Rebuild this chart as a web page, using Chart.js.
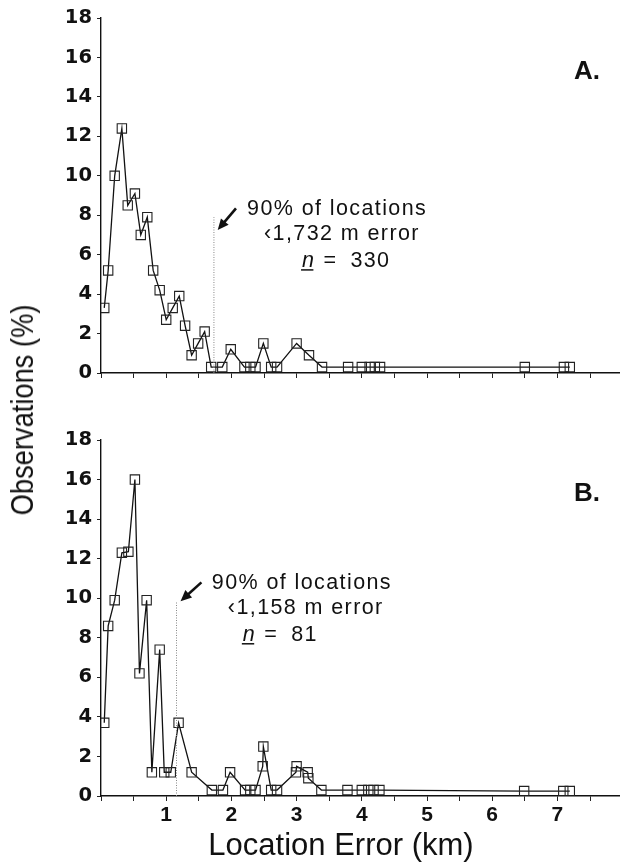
<!DOCTYPE html>
<html>
<head>
<meta charset="utf-8">
<script src="https://cdn.jsdelivr.net/npm/chart.js@4.4.1/dist/chart.umd.min.js"></script>
<style>
  body { margin: 0; background: #fff; width: 620px; height: 862px; position: relative; overflow: hidden;
         font-family: "Liberation Sans", Arial, Helvetica, sans-serif; color: #111; }
  .panel { position: absolute; left: 0; width: 620px; }
  #panelA { top: 0; height: 400px; }
  #panelB { top: 420px; height: 442px; }
  #ytitle { position: absolute; left: 23px; top: 410px; transform: translate(-50%, -50%) rotate(-90deg) scaleX(0.88);
            white-space: nowrap; font-size: 31px; }
  #xtitle { position: absolute; left: 341px; top: 845px; transform: translate(-50%, -50%);
            white-space: nowrap; font-size: 31px; }
</style>
</head>
<body>
<div class="panel" id="panelA"><canvas id="chartA"></canvas></div>
<div class="panel" id="panelB"><canvas id="chartB"></canvas></div>
<div id="ytitle">Observations (%)</div>
<div id="xtitle">Location Error (km)</div>
<script>
// panel A: all locations (n = 330)
const kmA  = [0.05, 0.11, 0.21, 0.32, 0.41, 0.52, 0.61, 0.71, 0.80, 0.90, 1.00, 1.10, 1.20, 1.29, 1.39, 1.49, 1.59, 1.69,
              1.86, 1.99, 2.20, 2.29, 2.37, 2.49, 2.61, 2.70, 3.00, 3.19, 3.39, 3.79, 4.00, 4.12, 4.20, 4.28, 6.50, 7.10, 7.19];
const obsA = [3.3, 5.2, 10.0, 12.4, 8.5, 9.1, 7.0, 7.9, 5.2, 4.2, 2.7, 3.3, 3.9, 2.4, 0.9, 1.5, 2.1, 0.3,
              0.3, 1.2, 0.3, 0.3, 0.3, 1.5, 0.3, 0.3, 1.5, 0.9, 0.3, 0.3, 0.3, 0.3, 0.3, 0.3, 0.3, 0.3, 0.3];

// panel B: n = 81
const kmB  = [0.05, 0.11, 0.21, 0.32, 0.42, 0.52, 0.59, 0.70, 0.78, 0.90, 0.97, 1.07, 1.19, 1.39, 1.70, 1.87, 1.98,
              2.21, 2.29, 2.37, 2.48, 2.49, 2.61, 2.70, 2.99, 3.00, 3.17, 3.18, 3.38, 3.78, 4.00, 4.10, 4.18, 4.27,
              6.49, 7.09, 7.19];
const obsB = [3.7, 8.6, 9.9, 12.3, 12.35, 16.0, 6.2, 9.9, 1.2, 7.4, 1.2, 1.2, 3.7, 1.2, 0.3, 0.3, 1.2,
              0.3, 0.3, 0.3, 1.5, 2.5, 0.3, 0.3, 1.2, 1.5, 1.2, 0.9, 0.3, 0.3, 0.3, 0.3, 0.3, 0.3,
              0.25, 0.25, 0.25];

const yTicks = [0, 2, 4, 6, 8, 10, 12, 14, 16, 18];
const xTicks = [0, 0.5, 1, 1.5, 2, 2.5, 3, 3.5, 4, 4.5, 5, 5.5, 6, 6.5, 7, 7.5];

// 90% cutoff distances (km)
const cutA = 1.732;
const cutB = 1.158;
const notesA = ['90% of locations', '\u20391,732 m error', '330'];
const notesB = ['90% of locations', '\u20391,158 m error', '81'];

const FONT = '"Liberation Sans", Arial, Helvetica, sans-serif';
const INK = '#111';

// dotted cutoff line, arrow, note text and panel letter
const cutoffNote = {
  id: 'cutoffNote',
  afterDatasetsDraw(chart, args, o) {
    const { ctx, scales: { x, y } } = chart;
    ctx.save();
    const px = x.getPixelForValue(o.cut);
    ctx.strokeStyle = '#888';
    ctx.lineWidth = 1;
    ctx.setLineDash([1, 1.5]);
    ctx.beginPath();
    ctx.moveTo(px, y.getPixelForValue(0));
    ctx.lineTo(px, y.getPixelForValue(o.top));
    ctx.stroke();
    ctx.setLineDash([]);

    const tx = x.getPixelForValue(o.tail[0]), ty = y.getPixelForValue(o.tail[1]);
    const hx = x.getPixelForValue(o.tip[0]), hy = y.getPixelForValue(o.tip[1]);
    const a = Math.atan2(hy - ty, hx - tx), c = Math.cos(a), s = Math.sin(a);
    ctx.strokeStyle = INK;
    ctx.lineWidth = 2.6;
    ctx.beginPath();
    ctx.moveTo(tx, ty);
    ctx.lineTo(hx - 7 * c, hy - 7 * s);
    ctx.stroke();
    ctx.fillStyle = INK;
    ctx.beginPath();
    ctx.moveTo(hx, hy);
    ctx.lineTo(hx - 11 * c + 5 * s, hy - 11 * s - 5 * c);
    ctx.lineTo(hx - 11 * c - 5 * s, hy - 11 * s + 5 * c);
    ctx.closePath();
    ctx.fill();

    const bx = x.getPixelForValue(o.at[0]), by = y.getPixelForValue(o.at[1]);
    ctx.font = '21.5px ' + FONT;
    ctx.letterSpacing = '1.4px';
    ctx.textAlign = 'left';
    ctx.textBaseline = 'middle';
    ctx.fillText(o.lines[0], bx + o.dx[0], by);
    ctx.fillText(o.lines[1], bx + o.dx[1], by + 25.5);
    // underlined italic n, then the count
    const ly = by + 52, lx = bx + o.dx[2];
    ctx.font = 'italic 21.5px ' + FONT;
    ctx.fillText('n', lx, ly);
    const nw = ctx.measureText('n').width;
    ctx.lineWidth = 1.5;
    ctx.beginPath();
    ctx.moveTo(lx - 1, ly + 9);
    ctx.lineTo(lx + nw - 2, ly + 9);
    ctx.stroke();
    ctx.font = '21.5px ' + FONT;
    ctx.fillText('=', lx + nw + 8, ly);
    ctx.fillText(o.lines[2], lx + nw + 35, ly);

    ctx.letterSpacing = '0px';
    ctx.font = 'bold 26px ' + FONT;
    ctx.textAlign = 'right';
    ctx.fillText(o.letter, chart.chartArea.right - 20, y.getPixelForValue(15.27));
    ctx.restore();
  }
};

function panel(id, km, obs, note, bottom) {
  return new Chart(document.getElementById(id), {
    type: 'line',
    data: {
      datasets: [{
        data: km.map((v, i) => ({ x: v, y: obs[i] })),
        borderColor: INK,
        borderWidth: 1.3,
        pointStyle: 'rect',
        pointRadius: 6.6,
        pointBorderWidth: 1.1,
        pointBorderColor: '#222',
        pointBackgroundColor: 'rgba(0,0,0,0)',
        tension: 0
      }]
    },
    options: {
      responsive: true,
      maintainAspectRatio: false,
      animation: false,
      layout: { autoPadding: false, padding: { top: bottom ? 20 : 18, right: 0, left: 0, bottom: 0 } },
      plugins: { legend: { display: false }, tooltip: { enabled: false }, cutoffNote: note },
      scales: {
        x: {
          type: 'linear',
          min: 0,
          max: 7.96,
          afterBuildTicks: s => { s.ticks = xTicks.map(v => ({ value: v })); },
          afterFit: s => { s.height = bottom ? 66 : 27; },
          border: { color: INK, width: 1.4 },
          grid: { drawOnChartArea: false, tickLength: 5, color: '#222', lineWidth: 1 },
          ticks: {
            display: bottom,
            autoSkip: false,
            maxRotation: 0,
            padding: 2,
            color: INK,
            font: { family: FONT, size: 21, weight: 'bold' },
            callback: v => (Number.isInteger(v) && v > 0) ? String(v) : ''
          }
        },
        y: {
          min: 0,
          max: 18,
          afterBuildTicks: s => { s.ticks = yTicks.map(v => ({ value: v })); },
          afterFit: s => { s.width = 101; },
          border: { color: INK, width: 1.4 },
          grid: { drawOnChartArea: false, tickLength: 4, color: '#222', lineWidth: 1 },
          ticks: {
            padding: 5,
            color: INK,
            font: { family: '"DejaVu Sans", sans-serif', size: 19.5, weight: 'bold' }
          }
        }
      }
    },
    plugins: [cutoffNote]
  });
}

panel('chartA', kmA, obsA, {
  cut: cutA, top: 7.9, tail: [2.07, 8.35], tip: [1.79, 7.25],
  at: [2.24, 8.32], dx: [0, 17, 55], lines: notesA, letter: 'A.'
}, false);

panel('chartB', kmB, obsB, {
  cut: cutB, top: 9.8, tail: [1.54, 10.8], tip: [1.22, 9.85],
  at: [1.70, 10.78], dx: [0, 16, 31], lines: notesB, letter: 'B.'
}, true);
</script>
</body>
</html>
